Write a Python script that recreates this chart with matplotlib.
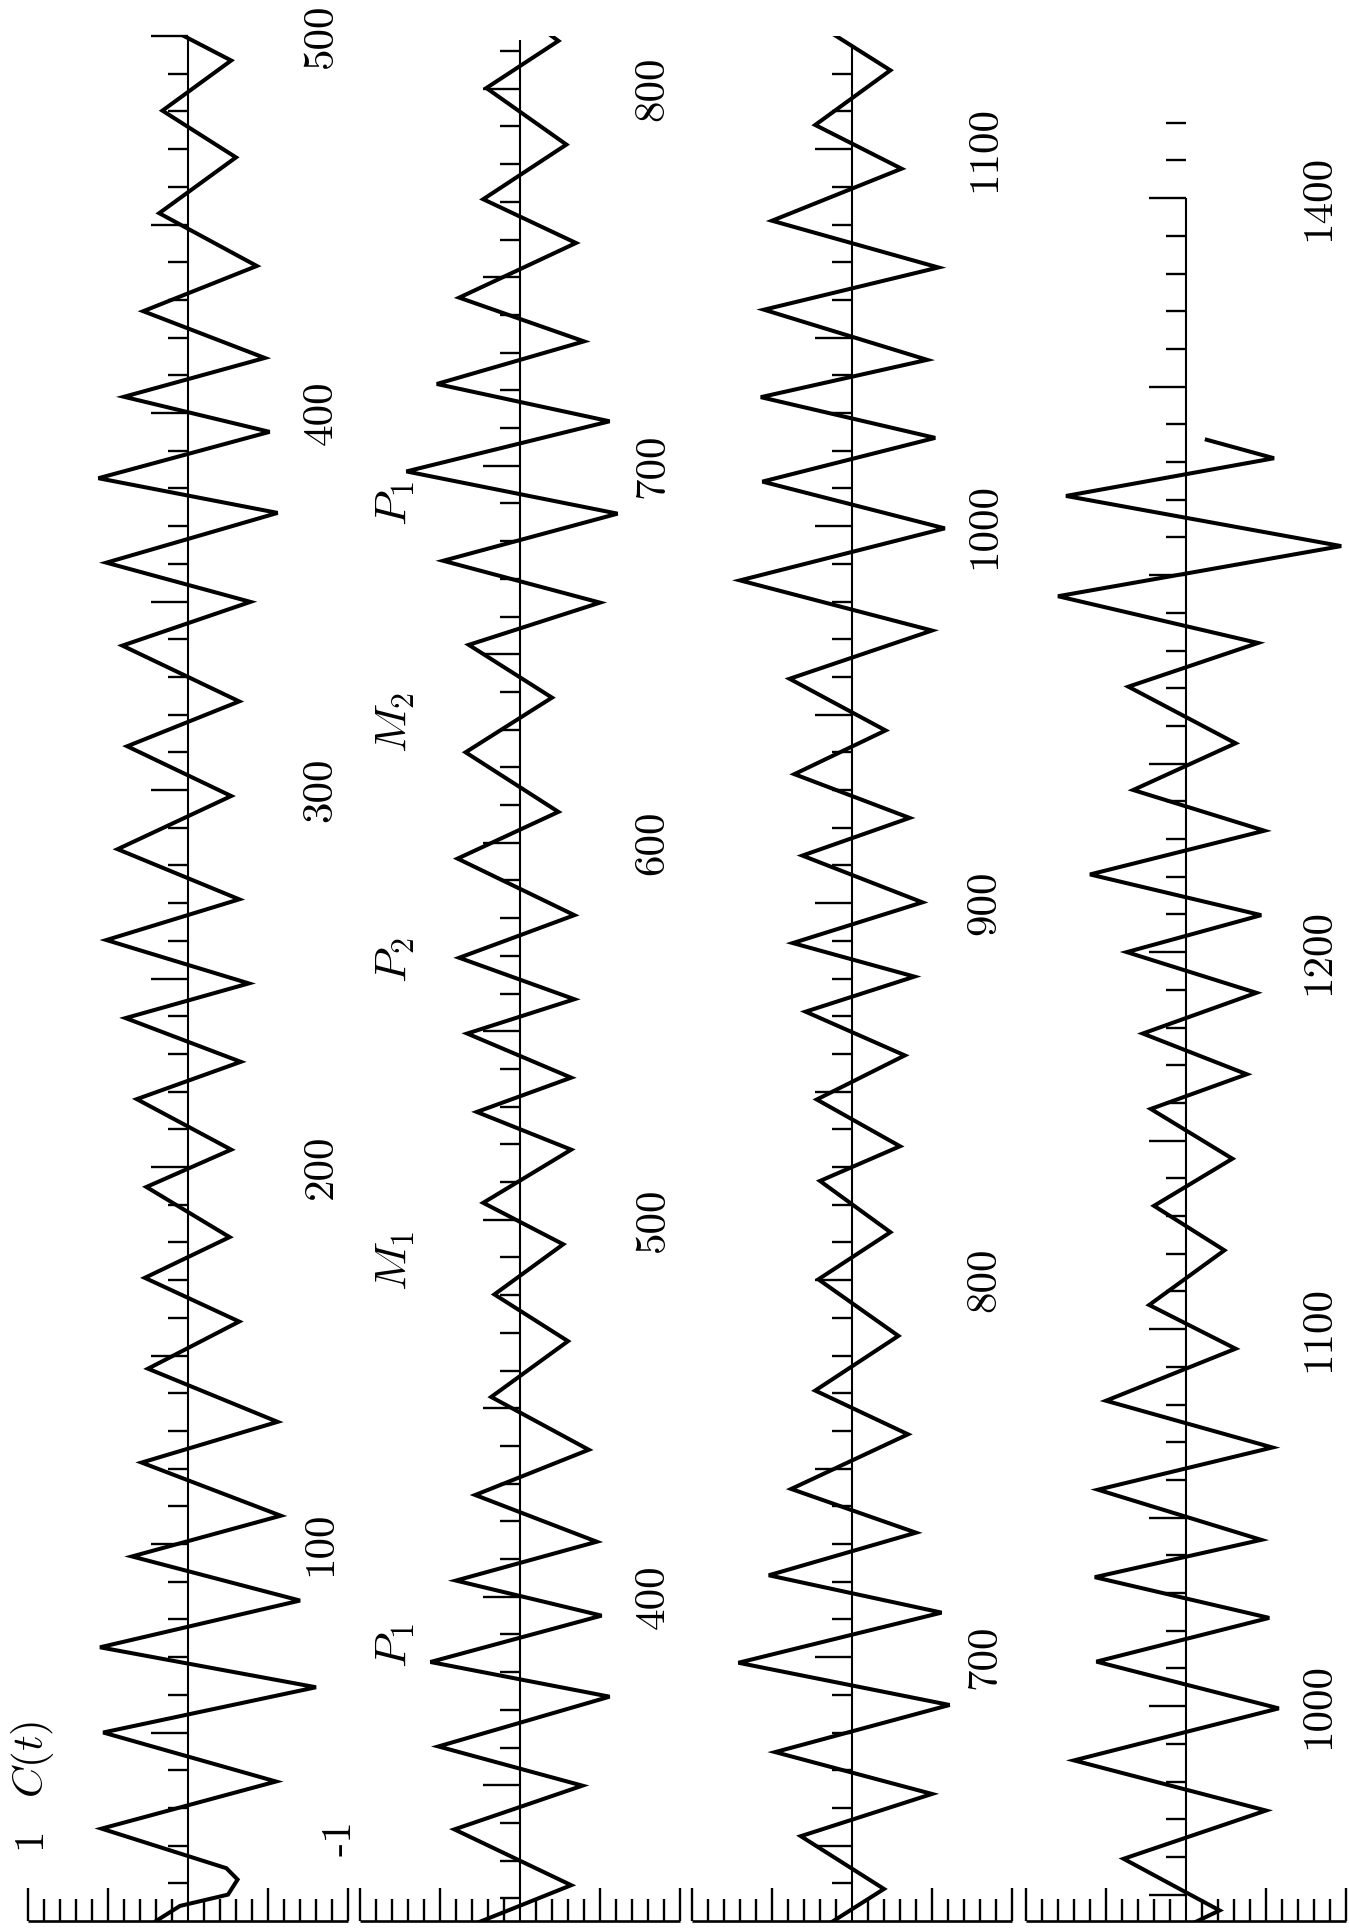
import numpy as np
import matplotlib
matplotlib.use("Agg")
import matplotlib.pyplot as plt

plt.rcParams['mathtext.fontset'] = 'cm'
plt.rcParams['font.family'] = ['DejaVu Serif']

# ---- data: the single time series C(t), read as turning points ----
t_vals = [0, 4, 7, 11, 14, 24.5, 37, 50, 62, 72.6, 85, 96.7, 107.5, 121.6, 132.4,
          146.5, 159, 170.6, 181.4, 194.7, 204.6, 218, 227.9, 239.5, 248.7, 260.2,
          271, 284.3, 298.4, 311.6, 323.5, 338.3, 349.9, 360.3, 373.5, 382.7, 395,
          404.3, 414.6, 427, 439, 453, 467.8, 480.2, 493.5, 504.5, 518.6, 528.6,
          537.7, 549.4, 558.5, 569.5, 580.8, 595.8, 608.2, 624, 638.5, 652.5, 663.7,
          674.8, 687.3, 698.5, 711.8, 721.7, 733, 744.6, 759.1, 770.7, 785.2, 800.2,
          812.7, 826.3, 835.5, 847.9, 859.6, 871.2, 880.5, 889.4, 900.2, 912.6, 922.6,
          934.2, 945.8, 959.5, 972.3, 985.6, 999.4, 1011.8, 1023.4, 1034.2, 1044.1,
          1057.4, 1068.6, 1081, 1094.8, 1106.4, 1120.9, 1132.7, 1145.2, 1158.4,
          1167.6, 1178.4, 1189.2, 1200, 1209.8, 1220.6, 1232.2, 1243, 1255.4, 1270.4,
          1282, 1294.4, 1307.7, 1321, 1331, 1335.9]
c_vals = [0.20, 0.05, -0.25, -0.31, -0.24, 0.54, -0.55, 0.53, -0.80, 0.55, -0.70, 0.35,
          -0.58, 0.29, -0.56, 0.25, -0.32, 0.27, -0.26, 0.26, -0.27, 0.32, -0.33, 0.39,
          -0.38, 0.51, -0.32, 0.44, -0.27, 0.38, -0.32, 0.41, -0.39, 0.51, -0.56, 0.56,
          -0.51, 0.40, -0.48, 0.28, -0.43, 0.18, -0.30, 0.16, -0.27, 0.23, -0.32, 0.27,
          -0.32, 0.33, -0.34, 0.38, -0.34, 0.39, -0.24, 0.34, -0.20, 0.32, -0.50, 0.48,
          -0.61, 0.71, -0.56, 0.52, -0.40, 0.38, -0.35, 0.23, -0.29, 0.21, -0.24, 0.20,
          -0.30, 0.22, -0.33, 0.29, -0.39, 0.37, -0.44, 0.31, -0.36, 0.36, -0.21, 0.39,
          -0.50, 0.70, -0.58, 0.56, -0.52, 0.57, -0.47, 0.55, -0.54, 0.50, -0.31, 0.23,
          -0.24, 0.20, -0.29, 0.22, -0.38, 0.27, -0.44, 0.37, -0.47, 0.60, -0.49, 0.33,
          -0.31, 0.36, -0.45, 0.80, -0.97, 0.75, -0.55, -0.13]

# ---- strips (windows of the same series) ----
strip_start = [0, 314, 630, 943]
strip_line_end = [500, 813, 1128, 1400]
strip_tick_end = [500, 810, 1120, 1420]
strip_labels = [[100, 200, 300, 400, 500],
                [400, 500, 600, 700, 800],
                [700, 800, 900, 1000, 1100],
                [1000, 1100, 1200, 1400]]
phase_names = ['$P_1$', '$M_1$', '$P_2$', '$M_2$', '$P_1$']
phase_t = [73, 175, 255, 318, 376]

W, H = 1349, 1932
fig = plt.figure(figsize=(W / 100, H / 100), dpi=100)
fig.patch.set_facecolor('white')

centers_px = [188, 520, 852, 1186]
half_px = 160
bottom_px = 1921
span_px = 1885
WINDOW = 500

ruler_c = np.round(np.arange(-10, 11) / 10.0, 1)
ruler_c = ruler_c[ruler_c != 0]
ruler_len = np.where(np.isclose(np.abs(ruler_c) % 0.5, 0), 8.8, 5.8)

num_font = ['cmr10', 'DejaVu Serif']
axes = []
for k in range(4):
    c = centers_px[k]
    ax = fig.add_axes([(c - half_px) / W, (H - bottom_px) / H,
                       2 * half_px / W, span_px / H])
    s = strip_start[k]
    ax.set_xlim(1, -1)
    ax.set_ylim(s, s + WINDOW)
    ax.axis('off')
    # signal
    ax.plot(c_vals, t_vals, color='black', lw=2.9, solid_joinstyle='miter')
    # time baseline
    ax.vlines(0, s, strip_line_end[k], color='black', lw=1.5, clip_on=False)
    ticks = np.arange(np.ceil((s + 1) / 10) * 10, strip_tick_end[k] + 1, 10)
    tlen = np.where(ticks % 50 == 0, 0.23, 0.125)
    ax.hlines(ticks, 0, tlen, color='black', lw=1.7, clip_on=False)
    # value ruler at the strip's start
    ax.hlines(s, -1, 1, color='black', lw=1.9, clip_on=False)
    ax.vlines(ruler_c, s, s + ruler_len, color='black', lw=1.7, clip_on=False)
    # time labels
    for lab in strip_labels[k]:
        ax.text(-0.83, lab, str(lab), rotation=90, ha='center', va='center',
                fontsize=31, family=num_font)
    axes.append(ax)

ax0 = axes[0]
ax0.text(0.99, 22, '1', rotation=90, ha='center', va='center',
         fontsize=31, family=num_font)
ax0.text(-0.95, 22, '-1', rotation=90, ha='center', va='center',
         fontsize=31, family=num_font)
ax0.text(0.975, 43, '$C(t)$', rotation=90, ha='center', va='center', fontsize=31)
for name, tp in zip(phase_names, phase_t):
    ax0.text(-1.29, tp, name, rotation=90, ha='center', va='center', fontsize=33)

fig.savefig('out.png', dpi=100, facecolor='white')
